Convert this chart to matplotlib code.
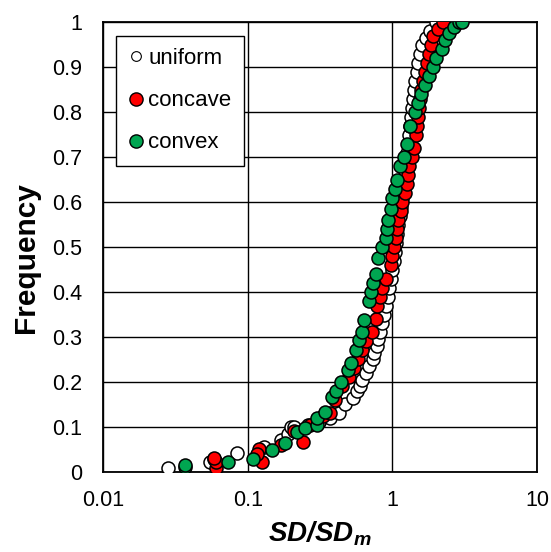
import matplotlib
matplotlib.use("Agg")
import matplotlib.pyplot as plt
from matplotlib.lines import Line2D

plt.rcParams["font.family"] = ["Liberation Sans", "DejaVu Sans"]
plt.rcParams["mathtext.fontset"] = "custom"
plt.rcParams["mathtext.bf"] = "Liberation Sans:bold:italic"
plt.rcParams["mathtext.rm"] = "Liberation Sans"

# uniform (white)
uni_x = [0.028, 0.055, 0.058, 0.084, 0.13, 0.17, 0.19, 0.20, 0.21, 0.26, 0.31, 0.37,
         0.43, 0.47, 0.53, 0.57, 0.60, 0.62, 0.66, 0.69, 0.73, 0.75, 0.78, 0.80,
         0.82, 0.85, 0.88, 0.90, 0.93, 0.95, 0.98, 1.00, 1.02, 1.04, 1.06, 1.08,
         1.10, 1.12, 1.14, 1.16, 1.18, 1.20, 1.22, 1.24, 1.26, 1.28, 1.30, 1.32,
         1.34, 1.36, 1.38, 1.41, 1.44, 1.47, 1.50, 1.54, 1.60, 1.70, 1.82, 2.0]
uni_f = [0.008, 0.022, 0.028, 0.042, 0.055, 0.070, 0.085, 0.10, 0.10, 0.105, 0.11, 0.12,
         0.13, 0.15, 0.165, 0.18, 0.19, 0.205, 0.22, 0.235, 0.25, 0.265, 0.28, 0.295,
         0.31, 0.33, 0.35, 0.37, 0.39, 0.41, 0.43, 0.45, 0.47, 0.49, 0.51, 0.53,
         0.55, 0.57, 0.59, 0.61, 0.63, 0.65, 0.67, 0.69, 0.71, 0.73, 0.75, 0.77,
         0.79, 0.81, 0.83, 0.85, 0.87, 0.89, 0.91, 0.93, 0.95, 0.965, 0.98, 1.0]

# concave (red)
cav_x = [0.06, 0.06, 0.058, 0.12, 0.125, 0.115, 0.17, 0.24, 0.21, 0.27, 0.33, 0.37,
         0.40, 0.45, 0.50, 0.54, 0.58, 0.62, 0.66, 0.72, 0.77, 0.78, 0.82, 0.85,
         0.90, 0.98, 1.00, 1.03, 1.05, 1.08, 1.10, 1.14, 1.17, 1.22, 1.26, 1.28,
         1.31, 1.36, 1.41, 1.45, 1.47, 1.50, 1.53, 1.56, 1.58, 1.63, 1.67, 1.72,
         1.78, 1.85, 1.92, 2.05, 2.25]
cav_f = [0.008, 0.022, 0.030, 0.050, 0.022, 0.040, 0.060, 0.067, 0.090, 0.105, 0.125, 0.13,
         0.16, 0.19, 0.21, 0.23, 0.25, 0.27, 0.29, 0.31, 0.34, 0.37, 0.39, 0.41,
         0.43, 0.46, 0.48, 0.50, 0.52, 0.54, 0.56, 0.58, 0.60, 0.62, 0.64, 0.66,
         0.68, 0.70, 0.72, 0.75, 0.77, 0.79, 0.81, 0.83, 0.85, 0.87, 0.89, 0.91,
         0.93, 0.95, 0.97, 0.985, 1.0]

# convex (green)
vex_x = [0.037, 0.037, 0.073, 0.108, 0.147, 0.18, 0.22, 0.25, 0.30, 0.30, 0.34, 0.38,
         0.41, 0.44, 0.49, 0.52, 0.56, 0.59, 0.62, 0.64, 0.69, 0.71, 0.73, 0.77,
         0.79, 0.85, 0.90, 0.91, 0.93, 0.97, 1.00, 1.04, 1.07, 1.12, 1.20, 1.26,
         1.33, 1.42, 1.50, 1.58, 1.67, 1.78, 1.90, 2.00, 2.20, 2.30, 2.45, 2.65,
         2.90, 3.00]
vex_f = [0.010, 0.016, 0.022, 0.028, 0.049, 0.064, 0.089, 0.098, 0.105, 0.12, 0.133, 0.167,
         0.18, 0.20, 0.227, 0.242, 0.27, 0.293, 0.31, 0.338, 0.38, 0.40, 0.42, 0.44,
         0.475, 0.50, 0.52, 0.54, 0.56, 0.585, 0.61, 0.63, 0.65, 0.68, 0.70, 0.73,
         0.77, 0.80, 0.82, 0.84, 0.86, 0.88, 0.90, 0.92, 0.94, 0.96, 0.975, 0.99,
         1.0, 1.0]

series = [
    ("uniform", uni_x, uni_f, "white", 7),
    ("concave", cav_x, cav_f, "#ff0000", 9.5),
    ("convex", vex_x, vex_f, "#00a651", 9.5),
]

fig = plt.figure(figsize=(5.51, 5.52), dpi=100)
ax = fig.add_axes([0.187, 0.145, 0.788, 0.815])

handles = []
for name, xs, fs, color, legsize in series:
    ax.scatter(xs, fs, s=88, facecolor=color, edgecolor="black", linewidth=1.1, zorder=3)
    handles.append(Line2D([], [], linestyle="none", marker="o", markersize=legsize,
                          markerfacecolor=color, markeredgecolor="black",
                          markeredgewidth=1.0 if color != "white" else 0.8, label=name))

ax.set_xscale("log")
ax.set_xlim(0.01, 10)
ax.set_ylim(0, 1)
ax.set_yticks([i / 10 for i in range(11)])
ax.set_yticklabels(["0", "0.1", "0.2", "0.3", "0.4", "0.5", "0.6", "0.7", "0.8", "0.9", "1"])
ax.set_xticks([0.01, 0.1, 1, 10])
ax.set_xticklabels(["0.01", "0.1", "1", "10"])
ax.minorticks_off()
ax.tick_params(axis="both", length=0, labelsize=15.5)
ax.tick_params(axis="y", pad=15)
ax.tick_params(axis="x", pad=13)
ax.grid(True, color="black", linewidth=1.0)
ax.set_axisbelow(True)
for sp in ax.spines.values():
    sp.set_linewidth(1.3)

ax.set_ylabel("Frequency", fontsize=21.5, fontweight="bold")
ax.yaxis.set_label_coords(-0.145, 0.476)
ax.set_xlabel(r"$\mathbf{SD/SD_m}$", fontsize=20, labelpad=6)

leg = ax.legend(handles=handles, loc="upper left", bbox_to_anchor=(0.03, 0.969),
                borderaxespad=0, fontsize=16, frameon=True, fancybox=False,
                edgecolor="black", framealpha=1, handlelength=0.7, handletextpad=0.2,
                labelspacing=0.95, borderpad=0.55)
leg.get_frame().set_linewidth(1.0)

fig.savefig("out.png", dpi=100)
